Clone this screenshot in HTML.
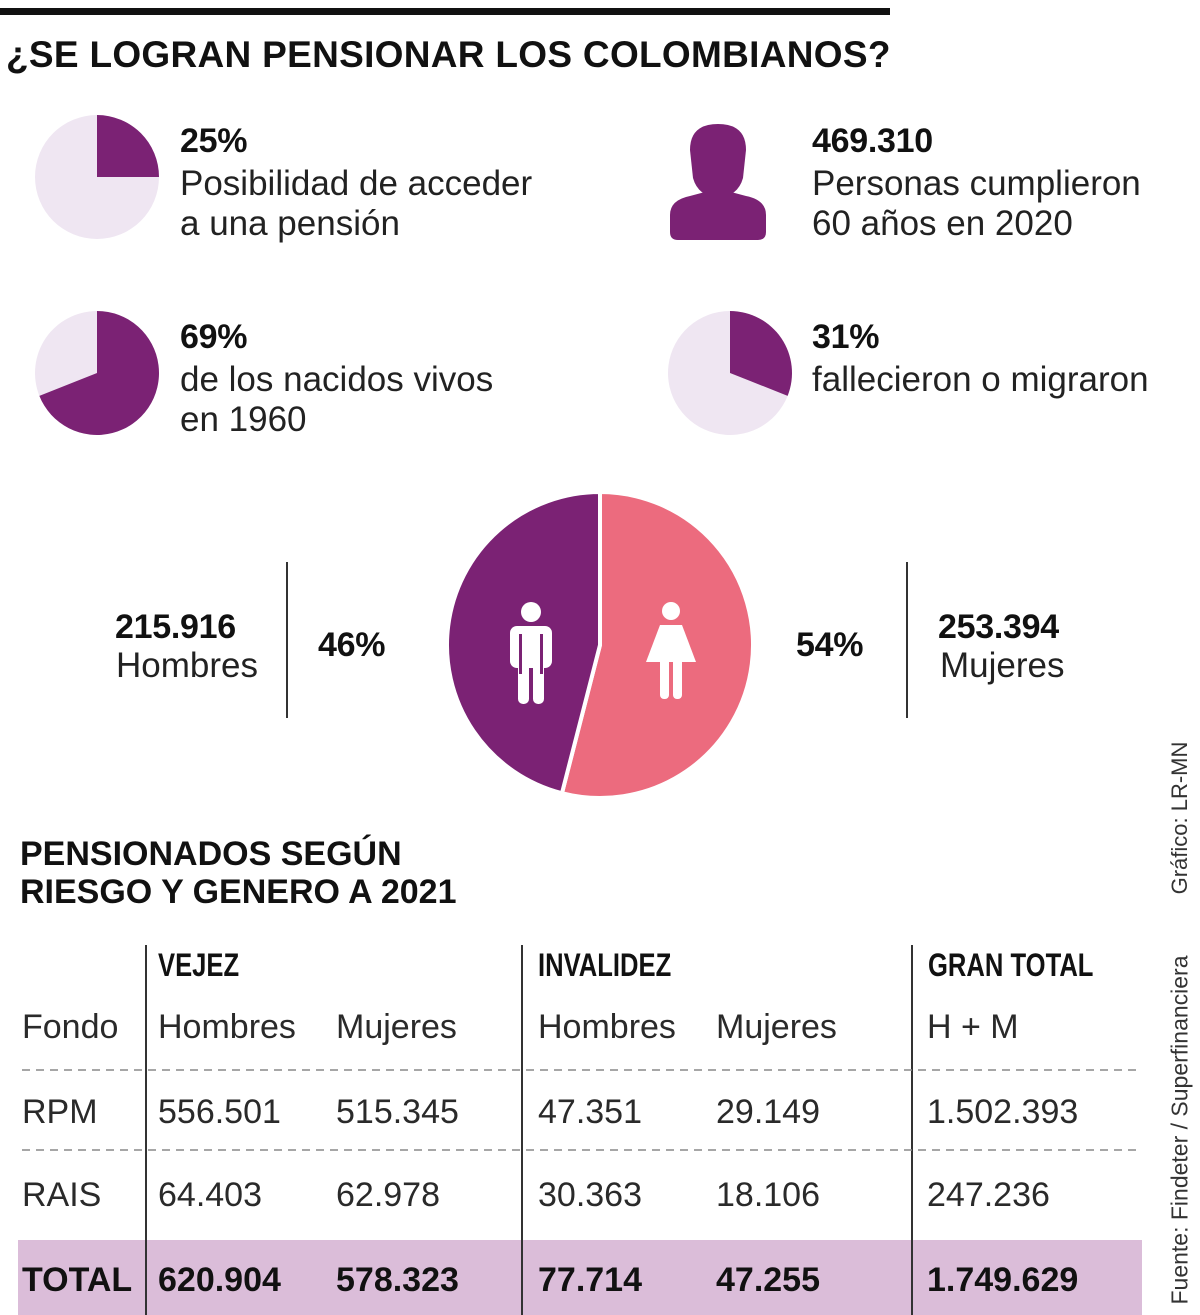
<!DOCTYPE html>
<html><head><meta charset="utf-8">
<style>
body{margin:0;width:1200px;height:1315px;background:#fff;position:relative;overflow:hidden;font-family:"Liberation Sans",sans-serif;color:#111}
.a{position:absolute;white-space:nowrap}
.b{font-weight:bold}
.big{font-size:34px;letter-spacing:-0.3px}
.lt{font-size:35px;color:#222;letter-spacing:0px}
.nar{font-family:"Liberation Sans Narrow","Liberation Sans",sans-serif}
.tc{font-size:34px;color:#2a2a2a}
.th{font-size:32px;font-weight:bold;transform:scaleX(0.8);transform-origin:left}
</style></head><body>
<div class="a" style="left:0;top:8px;width:890px;height:7px;background:#111"></div>
<div class="a b" style="left:6px;top:34px;font-size:37px;letter-spacing:0.3px">¿SE LOGRAN PENSIONAR LOS COLOMBIANOS?</div>

<svg class="a" style="left:0;top:0" width="1200" height="820">
<g id="pies"></g>
<g fill="#7b2274">
<path d="M690 150 Q690 124 718 124 Q746 124 746 150 L743 178 Q738 196 718 198 Q698 196 693 178 Z"/>
<path d="M670 215 Q670 200 690 196 L705 192 L731 192 L746 196 Q766 200 766 215 L766 232 Q766 240 758 240 L678 240 Q670 240 670 232 Z"/>
</g>
</svg>

<div class="a b big" style="left:180px;top:122px">25%</div>
<div class="a lt" style="left:180px;top:164px;line-height:40px">Posibilidad de acceder<br>a una pensión</div>
<div class="a b big" style="left:812px;top:122px">469.310</div>
<div class="a lt" style="left:812px;top:164px;line-height:40px">Personas cumplieron<br>60 años en 2020</div>
<div class="a b big" style="left:180px;top:318px">69%</div>
<div class="a lt" style="left:180px;top:360px;line-height:40px">de los nacidos vivos<br>en 1960</div>
<div class="a b big" style="left:812px;top:318px">31%</div>
<div class="a lt" style="left:812px;top:360px;line-height:40px">fallecieron o migraron</div>

<div class="a b big" style="left:115px;top:608px">215.916</div>
<div class="a lt" style="left:116px;top:646px">Hombres</div>
<div class="a" style="left:286px;top:562px;width:1.5px;height:156px;background:#333"></div>
<div class="a b big" style="left:318px;top:626px">46%</div>
<div class="a b big" style="left:796px;top:626px">54%</div>
<div class="a" style="left:906px;top:562px;width:1.5px;height:156px;background:#333"></div>
<div class="a b big" style="left:938px;top:608px">253.394</div>
<div class="a lt" style="left:940px;top:646px">Mujeres</div>

<div class="a b" style="left:20px;top:835px;font-size:34px;line-height:38px;letter-spacing:0px">PENSIONADOS SEGÚN<br>RIESGO Y GENERO A 2021</div>

<div class="a" style="left:18px;top:1240px;width:1124px;height:75px;background:#dbbdd9"></div>
<div class="a" style="left:145px;top:945px;width:1.5px;height:370px;background:#333"></div>
<div class="a" style="left:521px;top:945px;width:1.5px;height:370px;background:#333"></div>
<div class="a" style="left:911px;top:945px;width:1.5px;height:370px;background:#333"></div>
<svg class="a" style="left:0;top:1060px" width="1200" height="100">
<line x1="22" y1="10" x2="1142" y2="10" stroke="#888" stroke-width="1.5" stroke-dasharray="8 6"/>
<line x1="22" y1="90" x2="1142" y2="90" stroke="#888" stroke-width="1.5" stroke-dasharray="8 6"/>
</svg>

<div class="a th nar" style="left:158px;top:947px">VEJEZ</div>
<div class="a th nar" style="left:538px;top:947px">INVALIDEZ</div>
<div class="a th nar" style="left:928px;top:947px">GRAN TOTAL</div>

<div id="tbl"></div>

<div class="a" style="left:1180px;top:818px;font-size:22px;color:#333;transform:translate(-50%,-50%) rotate(-90deg)">Gráfico: LR-MN</div>
<div class="a" style="left:1180px;top:1130px;font-size:23px;color:#333;transform:translate(-50%,-50%) rotate(-90deg)">Fuente: Findeter / Superfinanciera</div>

<script>
// small pies: share of purple
const smallPieNames = ['pie-25','pie-69','pie-31'];
const smallPieValues = [25, 69, 31];
// gender pie
const genderNames = ['mujeres','hombres'];
const genderValues = [54, 46];
// table
const tableColumns = ['Fondo','Hombres','Mujeres','Hombres','Mujeres','H + M'];
const rowRPM = ['RPM','556.501','515.345','47.351','29.149','1.502.393'];
const rowRAIS = ['RAIS','64.403','62.978','30.363','18.106','247.236'];
const rowTotal = ['TOTAL','620.904','578.323','77.714','47.255','1.749.629'];

const NS='http://www.w3.org/2000/svg';
const g=document.getElementById('pies');
function pt(cx,cy,r,f){const a=f*2*Math.PI;return [cx+r*Math.sin(a),cy-r*Math.cos(a)];}
function arc(cx,cy,r,f0,f1,fill,name,stroke){
  const p=document.createElementNS(NS,'path');
  const [x0,y0]=pt(cx,cy,r,f0),[x1,y1]=pt(cx,cy,r,f1);
  p.setAttribute('d',`M${cx} ${cy} L${x0} ${y0} A${r} ${r} 0 ${f1-f0>0.5?1:0} 1 ${x1} ${y1} Z`);
  p.setAttribute('fill',fill);
  if(stroke){p.setAttribute('stroke','#fff');p.setAttribute('stroke-width',stroke);p.setAttribute('stroke-linejoin','round');}
  
  
  g.appendChild(p);
}
const centers=[[97,177],[97,373],[730,373]];
smallPieValues.forEach((v,i)=>{
  const [cx,cy]=centers[i];const f=v/100;
  arc(cx,cy,62,f,1,'#efe6f2',smallPieNames[i]+'-rest');
  arc(cx,cy,62,0,f,'#7b2274',smallPieNames[i]+'-slice');
});
const tot=genderValues[0]+genderValues[1];
const fw=genderValues[0]/tot;
arc(600,645,153,0,fw,'#ec6b7e','pie-slice-'+genderNames[0],4);
arc(600,645,153,fw,1,'#7b2274','pie-slice-'+genderNames[1],4);
function icon(html,name){const e=document.createElementNS(NS,'g');e.innerHTML=html;e.setAttribute('fill','#fff');
  
  
  g.appendChild(e);}
icon('<circle cx="531" cy="612" r="10"/><rect x="510" y="626" width="42" height="42" rx="7"/><rect x="518" y="650" width="11" height="54" rx="5"/><rect x="533" y="650" width="11" height="54" rx="5"/><rect x="519" y="634" width="3" height="40" fill="#7b2274"/><rect x="540" y="634" width="3" height="40" fill="#7b2274"/>','man-icon');
icon('<circle cx="671" cy="611" r="9"/><path d="M660 625 L682 625 L696 662 L646 662 Z"/><rect x="660" y="655" width="9" height="44" rx="4"/><rect x="673" y="655" width="9" height="44" rx="4"/>','woman-icon');

const tbl=document.getElementById('tbl');
const colX=[22,158,336,538,716,927];
function row(vals,top,bold,name){
  vals.forEach((t,i)=>{
    const d=document.createElement('div');
    d.className='a tc nar'+(bold?' b':'');
    d.style.left=colX[i]+'px';d.style.top=top+'px';
    if(bold){d.style.color='#111';}
    d.textContent=t;
    
    
    tbl.appendChild(d);
  });
}
row(tableColumns,1008,false,'header');
row(rowRPM,1093,false,'row-rpm');
row(rowRAIS,1176,false,'row-rais');
row(rowTotal,1261,true,'row-total');
</script>
</body></html>
